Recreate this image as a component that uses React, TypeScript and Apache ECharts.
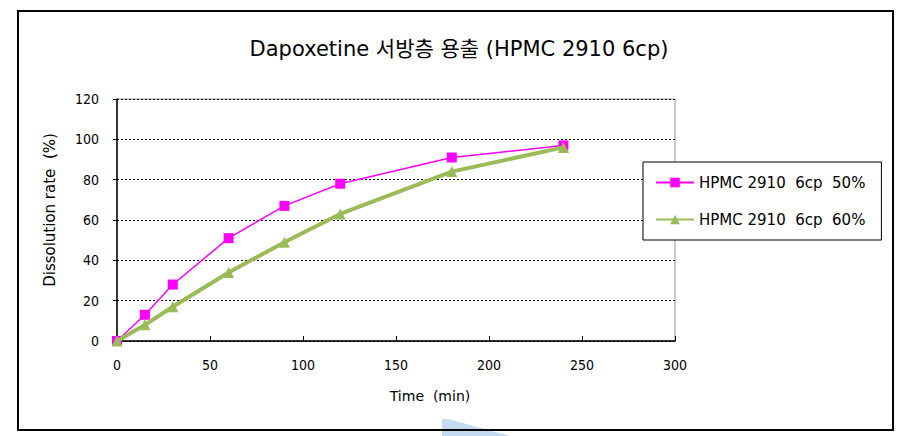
import React, { useEffect, useRef } from "react";
import * as echarts from "echarts";

const times = [0, 15, 30, 60, 90, 120, 180, 240];
const series50 = [0, 13, 28, 51, 67, 78, 91, 97];
const series60 = [0, 8, 17, 34, 49, 63, 84, 96];
const seriesNames = ["HPMC 2910  6cp  50%", "HPMC 2910  6cp  60%"];
const titleText = "Dapoxetine 서방층 용출 (HPMC 2910 6cp)";
const yAxisName = "Dissolution rate  (%)";
const xAxisName = "Time  (min)";

const FONT = "'DejaVu Sans Condensed', 'Liberation Sans Narrow', 'DejaVu Sans', sans-serif";
const WIDE = "'DejaVu Sans', 'Noto Sans CJK KR', sans-serif";

export default function App() {
  const ref = useRef<HTMLDivElement>(null);
  useEffect(() => {
    if (!ref.current) return;
    const chart = echarts.init(ref.current, undefined, { renderer: "svg" });
    const toPairs = (vals: number[]) => times.map((t, i) => [t, vals[i]]);
    chart.setOption({
      animation: false,
      backgroundColor: "#ffffff",
      title: {
        text: titleText,
        left: 454,
        textAlign: "center",
        top: 33,
        textStyle: {
          fontFamily: WIDE,
          fontSize: 21,
          fontWeight: "normal",
          color: "#000",
        },
      },
      legend: {
        orient: "vertical",
        left: 643,
        top: 162,
        padding: [13, 16, 13, 12],
        itemGap: 22,
        itemWidth: 38,
        itemHeight: 12,
        borderColor: "#000",
        borderWidth: 1,
        backgroundColor: "#fff",
        textStyle: { fontFamily: WIDE, fontSize: 15, color: "#000" },
        data: [seriesNames[0], seriesNames[1]],
      },
      grid: {
        left: 117,
        right: 227,
        top: 99,
        bottom: 95,
        show: true,
        borderColor: "#999",
        borderWidth: 1,
        backgroundColor: "transparent",
      },
      xAxis: {
        type: "value",
        min: 0,
        max: 300,
        interval: 50,
        name: xAxisName,
        nameLocation: "middle",
        nameGap: 48,
        nameTextStyle: { fontFamily: WIDE, fontSize: 14, color: "#000", padding: [0, 0, 0, 68] },
        axisLine: { show: true, lineStyle: { color: "#000", width: 1.5 } },
        axisTick: { show: true, inside: true, length: 5, lineStyle: { color: "#000" } },
        axisLabel: { margin: 17, fontFamily: FONT, fontSize: 14, color: "#000" },
        splitLine: { show: false },
      },
      yAxis: {
        type: "value",
        min: 0,
        max: 120,
        interval: 20,
        name: yAxisName,
        nameLocation: "middle",
        nameGap: 60,
        nameTextStyle: { fontFamily: WIDE, fontSize: 15, color: "#000", padding: [0, 0, 0, 20] },
        axisLine: { show: true, lineStyle: { color: "#000", width: 1.5 } },
        axisTick: { show: true, inside: false, length: 4, lineStyle: { color: "#000" } },
        axisLabel: { margin: 18, fontFamily: FONT, fontSize: 14, color: "#000" },
        splitLine: { show: true, lineStyle: { color: "#000", type: [2, 2], width: 1 } },
      },
      graphic: [
        {
          type: "polygon",
          z: -1,
          shape: { points: [[442, 419], [448, 419], [510, 436], [442, 436]] },
          style: { fill: "#c3daf0" },
        },
        {
          type: "rect",
          z: 100,
          shape: { x: 18, y: 11, width: 875, height: 419 },
          style: { fill: "none", stroke: "#000", lineWidth: 2 },
        },
      ],
      series: [
        {
          name: seriesNames[0],
          type: "line",
          data: toPairs(series50),
          symbol: "rect",
          symbolSize: 10,
          showAllSymbol: true,
          lineStyle: { color: "#ff00ff", width: 1.5 },
          itemStyle: { color: "#ff00ff" },
          z: 3,
        },
        {
          name: seriesNames[1],
          type: "line",
          data: toPairs(series60),
          symbol: "triangle",
          symbolSize: 11,
          showAllSymbol: true,
          lineStyle: { color: "#9bbb59", width: 4 },
          itemStyle: { color: "#9bbb59" },
          z: 4,
        },
      ],
    });
    return () => chart.dispose();
  }, []);
  return (
    <div
      ref={ref}
      style={{ position: "fixed", left: 0, top: 0, width: 902, height: 436 }}
    />
  );
}
